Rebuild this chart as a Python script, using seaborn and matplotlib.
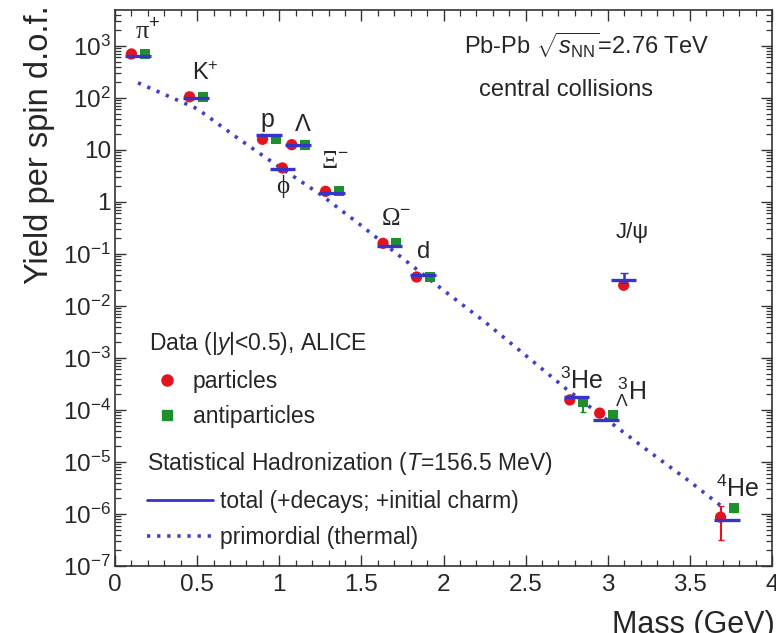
import numpy as np
import pandas as pd
import matplotlib
matplotlib.use("Agg")
import matplotlib.pyplot as plt
import seaborn as sns
from matplotlib.lines import Line2D
from matplotlib.ticker import MultipleLocator, LogLocator, NullFormatter, FuncFormatter

# ---- measured yields (per spin degree of freedom), central Pb-Pb at 2.76 TeV ----
species = ["pi+", "K+", "p", "phi", "Lambda", "Xi-", "Omega-", "d",
           "J/psi", "3He", "3LH", "4He"]
mass = [0.140, 0.494, 0.938, 1.019, 1.116, 1.322, 1.672, 1.876,
        3.097, 2.809, 2.991, 3.727]
self_conjugate = [False, False, False, True, False, False, False, False,
                  True, False, False, False]

yield_particle = [700, 105, 16.0, 4.5, 12.6, 1.6, 0.16, 0.036,
                  0.025, 1.56e-4, 8.7e-5, 8.7e-7]
err_particle_lo = [35, 5, 1.0, 0.4, 0.8, 0.1, 0.015, 0.004,
                   0.003, 1.5e-5, 1.0e-5, 5.5e-7]
err_particle_hi = [35, 5, 1.0, 0.4, 0.8, 0.1, 0.015, 0.004,
                   0.003, 1.5e-5, 1.0e-5, 5.3e-7]

yield_antiparticle = [700, 105, 16.0, np.nan, 12.6, 1.6, 0.16, 0.036,
                      np.nan, 1.4e-4, 8.0e-5, 1.3e-6]
err_anti_lo = [35, 5, 1.0, np.nan, 0.8, 0.1, 0.015, 0.004,
               np.nan, 5.0e-5, 1.2e-5, 2.0e-7]
err_anti_hi = [35, 5, 1.0, np.nan, 0.8, 0.1, 0.015, 0.004,
               np.nan, 2.0e-5, 1.2e-5, 2.0e-7]

# statistical hadronization model, total yield (+decays; +initial charm)
model_total = [640, 100, 19.0, 4.3, 12.5, 1.5, 0.14, 0.039,
               0.032, 1.8e-4, 6.4e-5, 7.7e-7]
model_err_lo = [0, 0, 0, 0, 0, 0, 0, 0, 0.004, 0, 0, 0]
model_err_hi = [0, 0, 0, 0, 0, 0, 0, 0, 0.011, 0, 0, 0]

# primordial (thermal) yield versus mass
prim_mass = [0.14, 0.30, 0.50, 0.75, 1.00, 1.25, 1.50, 1.75, 2.00,
             2.25, 2.50, 2.75, 3.00, 3.25, 3.50, 3.70]
prim_yield = [195, 117, 62, 16.6, 4.7, 1.4, 0.35, 0.083, 0.020,
              5.0e-3, 1.12e-3, 2.5e-4, 6.3e-5, 1.6e-5, 4.2e-6, 1.35e-6]

# species labels and where they are written
label_text = [r"π$^{+}$", r"K$^{+}$", "p", "ϕ", "Λ", r"Ξ$^{-}$", r"Ω$^{-}$", "d",
              "J/ψ", r"$^{3}$He", r"$^{\,3}_{\Lambda}$H", r"$^{4}$He"]
label_x = [0.20, 0.55, 0.93, 1.023, 1.145, 1.34, 1.71, 1.88, 3.15, 2.84, 3.14, 3.79]
label_y = [1900, 300, 38, 1.95, 30, 5.8, 0.47, 0.11, 0.26, 3.6e-4, 2.2e-4, 3.0e-6]
label_size = [19, 17, 18, 18, 17, 18, 18, 17, 16, 18, 18, 18]
label_serif = [True, False, False, True, False, True, True, False,
               False, False, False, False]

RED = "#e4141e"
GREEN = "#1f8f2b"
BLUE = "#3434c8"
DOT = "#4040c4"
INK = "#262626"

sns.set_style("ticks")
plt.rcParams["font.family"] = ["Liberation Sans", "DejaVu Sans"]
plt.rcParams["mathtext.fontset"] = "custom"
plt.rcParams["mathtext.rm"] = "Liberation Sans"
plt.rcParams["mathtext.it"] = "Liberation Sans:italic"
plt.rcParams["mathtext.bf"] = "Liberation Sans:bold"
plt.rcParams["text.color"] = INK

df = pd.DataFrame({
    "species": species, "mass": mass, "self": self_conjugate,
    "particle": yield_particle, "p_lo": err_particle_lo, "p_hi": err_particle_hi,
    "anti": yield_antiparticle, "a_lo": err_anti_lo, "a_hi": err_anti_hi,
    "model": model_total, "m_lo": model_err_lo, "m_hi": model_err_hi,
})
# particles drawn slightly left, antiparticles slightly right of the mass
shift = 0.04
df["x_part"] = np.where(df["self"], df["mass"], df["mass"] - shift)
df["x_anti"] = df["mass"] + shift
prim = pd.DataFrame({"mass": prim_mass, "yield": prim_yield})

fig = plt.figure(figsize=(7.76, 6.33), dpi=100)
ax = fig.add_axes([115 / 776, 67 / 633, 657 / 776, 556 / 633])
ax.set_yscale("log")

# primordial thermal line
sns.lineplot(data=prim, x="mass", y="yield", ax=ax, color=DOT, lw=2.6,
             linestyle=(0, (0.9, 1.9)), zorder=2, legend=False)

# error bars
ax.errorbar(df["x_part"], df["particle"], yerr=[df["p_lo"], df["p_hi"]],
            fmt="none", ecolor=RED, elinewidth=1.5, capsize=2, zorder=3)
anti = df.dropna(subset=["anti"])
ax.errorbar(anti["x_anti"], anti["anti"], yerr=[anti["a_lo"], anti["a_hi"]],
            fmt="none", ecolor=GREEN, elinewidth=1.5, capsize=2, zorder=3)

# data markers
sns.scatterplot(data=anti, x="x_anti", y="anti", ax=ax, marker="s", s=52,
                color=GREEN, edgecolor="none", linewidth=0, zorder=4, legend=False)
sns.scatterplot(data=df, x="x_part", y="particle", ax=ax, marker="o", s=66,
                color=RED, edgecolor="none", linewidth=0, zorder=5, legend=False)

# model total: short horizontal bars around each species
half = 0.078
ax.hlines(df["model"], df["mass"] - half, df["mass"] + half, colors=BLUE,
          lw=2.4, zorder=6)
ax.errorbar(df["mass"], df["model"], yerr=[df["m_lo"], df["m_hi"]], fmt="none",
            ecolor=BLUE, elinewidth=1.8, capsize=3, zorder=6)

ax.set_xlim(0, 4)
ax.set_ylim(1e-7, 4.9e3)

# species labels
serif = ["Liberation Serif", "DejaVu Serif"]
sans = ["Liberation Sans", "DejaVu Sans"]
for t, x, y, fs, sf in zip(label_text, label_x, label_y, label_size, label_serif):
    ax.text(x, y, t, fontsize=fs, ha="center", va="center",
            family=serif if sf else sans, color=INK)

ax.text(0.718, 0.937, r"Pb-Pb $\sqrt{s_{\rm NN}}$=2.76 TeV", transform=ax.transAxes,
        fontsize=17, ha="center", va="center")
ax.text(0.686, 0.856, "central collisions", transform=ax.transAxes,
        fontsize=17, ha="center", va="center")

# axes styling
ax.xaxis.set_major_locator(MultipleLocator(0.5))
ax.xaxis.set_minor_locator(MultipleLocator(0.1))
ax.xaxis.set_major_formatter(FuncFormatter(lambda v, p: f"{v:g}"))
ax.yaxis.set_major_locator(LogLocator(base=10, numticks=20))
ax.yaxis.set_minor_locator(LogLocator(base=10, subs=np.arange(2, 10), numticks=20))
ax.yaxis.set_minor_formatter(NullFormatter())


def ylab(v, pos):
    e = int(round(np.log10(v)))
    if e == 0:
        return "1"
    if e == 1:
        return "10"
    return r"$10^{%d}$" % e


ax.yaxis.set_major_formatter(FuncFormatter(ylab))
ax.tick_params(which="both", direction="in", top=True, right=True,
               colors="#333333", labelcolor=INK)
ax.tick_params(which="major", length=8, width=1.0, labelsize=17.5)
ax.tick_params(which="minor", length=4, width=0.9)
ax.tick_params(axis="x", which="major", pad=6)
ax.tick_params(axis="y", which="major", pad=3)
for s in ax.spines.values():
    s.set_color("#333333")
    s.set_linewidth(1.2)

ax.set_ylabel("Yield per spin d.o.f.", fontsize=23.5, color=INK)
ax.yaxis.set_label_coords(-0.092, 0.757)
ax.set_xlabel("Mass (GeV)", fontsize=22, color=INK, ha="left")
ax.xaxis.set_label_coords(0.756, -0.080)

# legend: data and model groups
leg_kw = dict(frameon=False, fontsize=16.5, title_fontsize=16.5, alignment="left",
              borderpad=0, borderaxespad=0, handletextpad=0.3, labelspacing=0.55)
h1 = [Line2D([], [], ls="none", marker="o", ms=8, color=RED),
      Line2D([], [], ls="none", marker="s", ms=7, color=GREEN)]
leg1 = ax.legend(h1, ["particles", "antiparticles"], title=r"Data (|$y$|<0.5), ALICE",
                 loc="upper left", bbox_to_anchor=(0.052, 0.424), handlelength=1.6,
                 **leg_kw)
ax.add_artist(leg1)
h2 = [Line2D([], [], color=BLUE, lw=2.0),
      Line2D([], [], color=DOT, lw=2.6, linestyle=(0, (0.9, 1.9)))]
ax.legend(h2, ["total (+decays; +initial charm)", "primordial (thermal)"],
          title=r"Statistical Hadronization ($T$=156.5 MeV)",
          loc="upper left", bbox_to_anchor=(0.048, 0.208), handlelength=2.9, **leg_kw)

fig.savefig("out.png", dpi=100)
